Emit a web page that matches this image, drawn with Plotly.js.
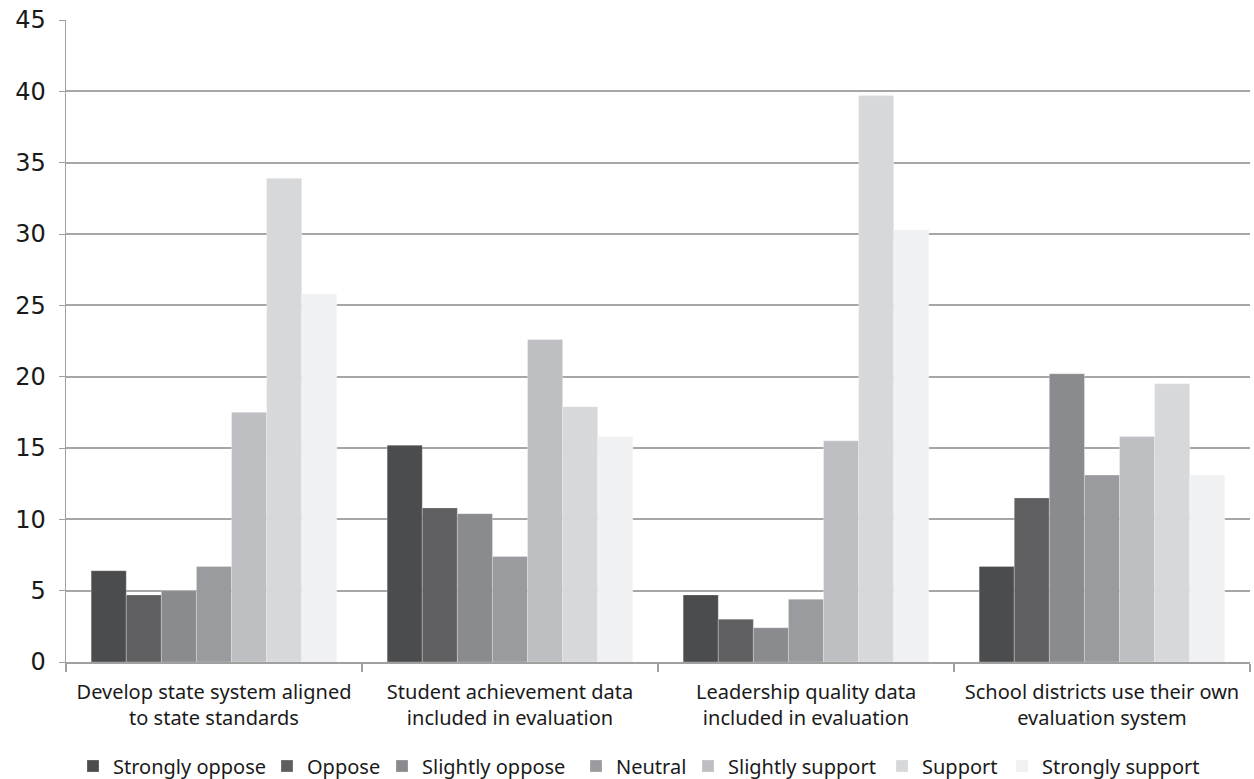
<!DOCTYPE html>
<html><head><meta charset="utf-8">
<script src="https://cdn.plot.ly/plotly-3.0.1.min.js"></script>
<style>html,body{margin:0;padding:0;background:#fff}#chart{width:1254px;height:779px}</style>
</head><body><div id="chart"></div>
<script>
const categories = [
  "Develop state system aligned<br>to state standards",
  "Student achievement data<br>included in evaluation",
  "Leadership quality data<br>included in evaluation",
  "School districts use their own<br>evaluation system"
];
const seriesNames = ["Strongly oppose","Oppose","Slightly oppose","Neutral","Slightly support","Support","Strongly support"];
const stronglyOppose = [6.4, 15.2, 4.7, 6.7];
const oppose = [4.7, 10.8, 3.0, 11.5];
const slightlyOppose = [5.0, 10.4, 2.4, 20.2];
const neutral = [6.7, 7.4, 4.4, 13.1];
const slightlySupport = [17.5, 22.6, 15.5, 15.8];
const support = [33.9, 17.9, 39.7, 19.5];
const stronglySupport = [25.8, 15.8, 30.3, 13.1];
const yTicks = [0,5,10,15,20,25,30,35,40,45];

const seriesValues = [stronglyOppose, oppose, slightlyOppose, neutral, slightlySupport, support, stronglySupport];
const colors = ["#4b4c4e","#5f5f61","#8a8b8e","#9a9b9e","#bebfc2","#d7d8da","#f0f1f3"];
// pixel x where each legend entry's label text begins
const legendTextX = [117, 311, 426, 620, 732, 926, 1046];

const legendNames = seriesNames.map((n,i)=> i===0 ? "legend" : "legend"+(i+1));

const traces = seriesNames.map((n,i)=>({
  type:"bar", name:n, x:categories, y:seriesValues[i], legend:legendNames[i],
  marker:{color:colors[i], line:{color:"rgba(255,255,255,0.5)", width:0.5}}
}));

const layout = {
  width:1254, height:779,
  margin:{l:66, r:4, t:20, b:117, autoexpand:false},
  paper_bgcolor:"#fff", plot_bgcolor:"#fff",
  barmode:"group", bargap:0.17, bargroupgap:0,
  font:{family:"Noto Sans, DejaVu Sans, sans-serif", color:"#1a1a1a"},
  xaxis:{type:"category", showline:true, linecolor:"#a0a0a0", linewidth:2,
    ticks:"outside", tickson:"boundaries", ticklen:8, tickcolor:"#a0a0a0", tickwidth:1.5,
    ticklabelstandoff:11, automargin:false,
    tickfont:{size:20, color:"#1a1a1a"}, showgrid:false, fixedrange:true},
  yaxis:{range:[0,45], tickvals:yTicks, ticktext:yTicks.map(String),
    showline:true, linecolor:"#a0a0a0", linewidth:1.5, automargin:false,
    ticks:"outside", ticklen:6, tickcolor:"#a0a0a0", ticklabelstandoff:8,
    showgrid:true, gridcolor:"#a6a6a6", gridwidth:2, zeroline:false,
    tickfont:{size:24, family:"DejaVu Sans, sans-serif", color:"#1a1a1a"}},
  showlegend:true
};
legendNames.forEach((ln,i)=>{
  layout[ln] = {orientation:"h", xref:"container", yref:"container",
    x:(legendTextX[i]-4-40)/1254, xanchor:"left", y:1-766/779, yanchor:"middle",
    font:{size:20, color:"#1a1a1a"}, itemwidth:30, bgcolor:"rgba(0,0,0,0)"};
});
Plotly.newPlot("chart", traces, layout, {displayModeBar:false, staticPlot:true});
</script></body></html>
